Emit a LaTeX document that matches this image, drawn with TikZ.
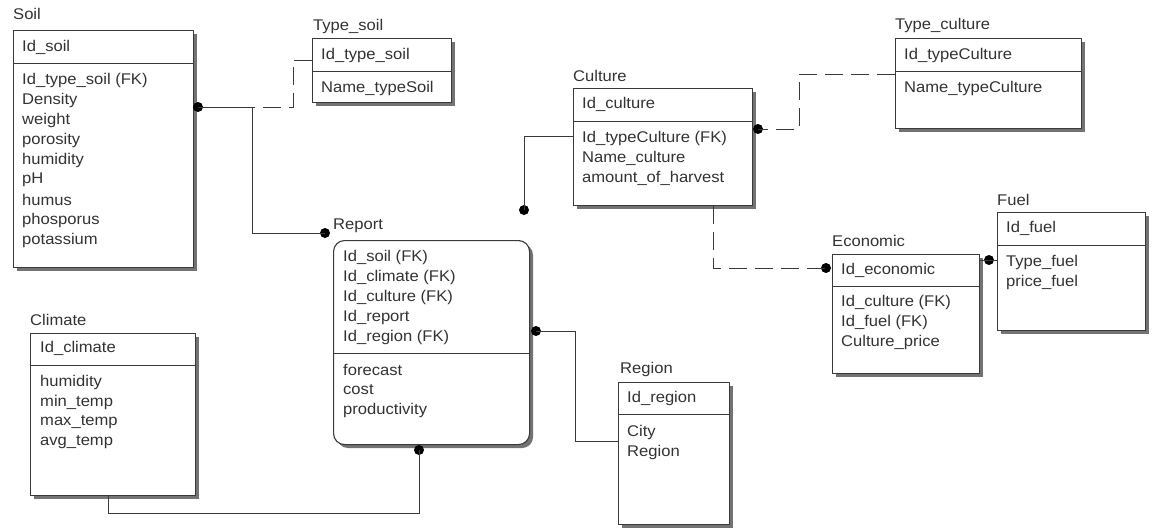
\documentclass[tikz,border=0pt]{standalone}
\usepackage{fontspec}
\setmainfont{Liberation Sans}[FakeStretch=1.07]
\usetikzlibrary{shadows,calc}
\definecolor{ink}{HTML}{333333}
\definecolor{edge}{HTML}{3A3A3A}
\tikzset{
  tbl/.style={draw=edge, fill=white, line width=1.1pt, anchor=north west, inner sep=0pt,
    drop shadow={shadow xshift=3.5pt, shadow yshift=-3.5pt, fill=black!55, opacity=1}},
  rtbl/.style={tbl, rounded corners=11pt},
  div/.style={draw=edge, line width=1pt},
  row/.style={anchor=west, inner sep=0pt, text=ink, font=\fontsize{15.5}{18}\selectfont},
  ttl/.style={row},
  rel/.style={draw=edge, line width=1pt},
  reld/.style={rel, dash pattern=on 18pt off 8pt},
  fk/.style={circle, fill=black, inner sep=0pt, minimum size=10pt},
}
\begin{document}
\begin{tikzpicture}[x=1pt,y=-1pt]
\useasboundingbox[fill=white] (0,0) rectangle (1157,528);

% ---------- Soil ----------
\node[ttl] (soil-t) at (13,14) {Soil};
\node[tbl, minimum width=180pt, minimum height=237pt] (soil) at (13,30) {};
\draw[div] (soil.west |- 0,63) -- (soil.east |- 0,63);
\node[row] (soil-k) at (22,47) {Id\_soil};
\foreach \t [count=\i from 0] in {Id\_type\_soil (FK),Density,weight,porosity,humidity,pH,humus,phosporus,potassium}
  \node[row] (soil-a\i) at (22,80+20*\i) {\t};

% ---------- Type_soil ----------
\node[ttl] (tsoil-t) at (313,26) {Type\_soil};
\node[tbl, minimum width=139pt, minimum height=64pt] (tsoil) at (312,38) {};
\draw[div] (tsoil.west |- 0,71) -- (tsoil.east |- 0,71);
\node[row] (tsoil-k) at (321,55) {Id\_type\_soil};
\node[row] (tsoil-a0) at (321,88) {Name\_typeSoil};

% ---------- Culture ----------
\node[ttl] (culture-t) at (573,76) {Culture};
\node[tbl, minimum width=179pt, minimum height=117pt] (culture) at (573,88) {};
\draw[div] (culture.west |- 0,121) -- (culture.east |- 0,121);
\node[row] (culture-k) at (582,104) {Id\_culture};
\foreach \t [count=\i from 0] in {Id\_typeCulture (FK),Name\_culture,amount\_of\_harvest}
  \node[row] (culture-a\i) at (582,138+20*\i) {\t};

% ---------- Type_culture ----------
\node[ttl] (tculture-t) at (895,25) {Type\_culture};
\node[tbl, minimum width=186pt, minimum height=90pt] (tculture) at (895,38) {};
\draw[div] (tculture.west |- 0,71) -- (tculture.east |- 0,71);
\node[row] (tculture-k) at (904,55) {Id\_typeCulture};
\node[row] (tculture-a0) at (904,88) {Name\_typeCulture};

% ---------- Fuel ----------
\node[ttl] (fuel-t) at (997,200) {Fuel};
\node[tbl, minimum width=148pt, minimum height=118pt] (fuel) at (997,212) {};
\draw[div] (fuel.west |- 0,245) -- (fuel.east |- 0,245);
\node[row] (fuel-k) at (1006,228) {Id\_fuel};
\node[row] (fuel-a0) at (1006,262) {Type\_fuel};
\node[row] (fuel-a1) at (1006,282) {price\_fuel};

% ---------- Economic ----------
\node[ttl] (economic-t) at (832,241) {Economic};
\node[tbl, minimum width=147pt, minimum height=119pt] (economic) at (832,254) {};
\draw[div] (economic.west |- 0,286) -- (economic.east |- 0,286);
\node[row] (economic-k) at (841,270) {Id\_economic};
\foreach \t [count=\i from 0] in {Id\_culture (FK),Id\_fuel (FK),Culture\_price}
  \node[row] (economic-a\i) at (841,302+20*\i) {\t};

% ---------- Region ----------
\node[ttl] (region-t) at (620,369) {Region};
\node[tbl, minimum width=111pt, minimum height=142pt] (region) at (618,382) {};
\draw[div] (region.west |- 0,414) -- (region.east |- 0,414);
\node[row] (region-k) at (627,398) {Id\_region};
\node[row] (region-a0) at (627,432) {City};
\node[row] (region-a1) at (627,452) {Region};

% ---------- Report ----------
\node[ttl] (report-t) at (333,226) {Report};
\node[rtbl, minimum width=196pt, minimum height=204pt] (report) at (333,240) {};
\draw[div] (report.west |- 0,353) -- (report.east |- 0,353);
\foreach \t [count=\i from 0] in {Id\_soil (FK),Id\_climate (FK),Id\_culture (FK),Id\_report,Id\_region (FK)}
  \node[row] (report-k\i) at (343,257+20*\i) {\t};
\foreach \t [count=\i from 0] in {forecast,cost,productivity}
  \node[row] (report-a\i) at (343,370+20*\i) {\t};

% ---------- Climate ----------
\node[ttl] (climate-t) at (30,320) {Climate};
\node[tbl, minimum width=165pt, minimum height=162pt] (climate) at (30,333) {};
\draw[div] (climate.west |- 0,365) -- (climate.east |- 0,365);
\node[row] (climate-k) at (40,348) {Id\_climate};
\foreach \t [count=\i from 0] in {humidity,min\_temp,max\_temp,avg\_temp}
  \node[row] (climate-a\i) at (40,382+20*\i) {\t};

% ---------- relationship end dots ----------
\node[fk] (dot-soil) at (198,107) {};
\node[fk] (dot-rep) at (325,233) {};
\node[fk] (dot-cr) at (524,210) {};
\node[fk] (dot-cul) at (758,129) {};
\node[fk] (dot-eco) at (826,268) {};
\node[fk] (dot-fuel) at (989,260) {};
\node[fk] (dot-rreg) at (536,331) {};
\node[fk] (dot-rcl) at (419,450) {};

% ---------- relationships ----------
% Type_soil -> Soil (non-identifying)
\draw[reld] (tsoil.west |- 0,60) -- ++(-19,0) |- (dot-soil.center);
% Soil -> Report
\draw[rel] (dot-soil.center) -- ++(54,0) |- (dot-rep.center);
% Culture -> Report
\draw[rel] (culture.west |- 0,136) -| (dot-cr.center);
% Type_culture -> Culture (non-identifying)
\draw[reld] (tculture.west |- 0,74) -| ++(-96,55) -- (dot-cul.center);
% Culture -> Economic (non-identifying)
\draw[reld] (culture.south -| 713,0) |- (dot-eco.center);
% Fuel -> Economic
\draw[rel] (economic.east |- dot-fuel) -- (fuel.west |- dot-fuel);
% Region -> Report
\draw[rel] (dot-rreg.center) -- ++(39,0) |- (region.west |- 0,441);
% Climate -> Report
\draw[rel] (dot-rcl.center) -- ++(0,63) -| (climate.south -| 108,0);
\end{tikzpicture}
\end{document}
